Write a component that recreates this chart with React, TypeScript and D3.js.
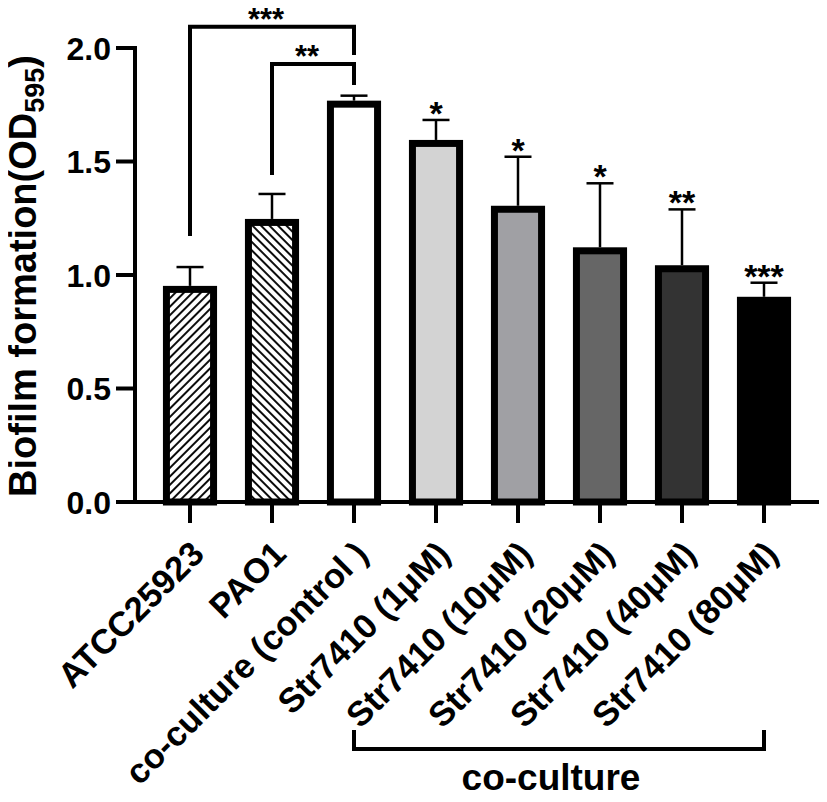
import React from 'react';
import * as d3 from 'd3';

const categories = [
  'ATCC25923',
  'PAO1',
  'co-culture (control )',
  'Str7410 (1μM)',
  'Str7410 (10μM)',
  'Str7410 (20μM)',
  'Str7410 (40μM)',
  'Str7410 (80μM)',
];
const means = [0.952, 1.247, 1.768, 1.595, 1.305, 1.122, 1.043, 0.904];
const errors = [0.083, 0.11, 0.022, 0.088, 0.216, 0.282, 0.246, 0.062];
const fills = ['url(#hatchFwd)', 'url(#hatchBack)', '#ffffff', '#d3d3d3', '#a0a0a4', '#666666', '#333333', '#000000'];
const stars = ['', '', '', '*', '*', '*', '**', '***'];
const yTicks = [0, 0.5, 1.0, 1.5, 2.0];

// comparison brackets: from / to category index, height and leg ends in data units
const brackets = [
  {from: 0, to: 2, top: 2.094, leftEnd: 1.172, rightEnd: 1.969, label: '***'},
  {from: 1, to: 2, top: 1.93, leftEnd: 1.441, rightEnd: 1.837, label: '**'},
];
const groupFrom = 2;
const groupTo = 7;
const groupLabel = 'co-culture';

const font = '"Liberation Sans", Arial, Helvetica, sans-serif';

export default function App() {
  const width = 827;
  const height = 802;
  const axisX = 135;
  const baseY = 502;

  const x = d3.scaleBand<string>()
    .domain(categories)
    .range([149, 805])
    .paddingInner(0.34)
    .paddingOuter(0.17);
  const y = d3.scaleLinear().domain([0, 2]).range([baseY, 48]);

  const bw = x.bandwidth();
  const sw = 7;
  const cx = (i: number) => (x(categories[i]) as number) + bw / 2;

  return (
    <svg width={width} height={height} style={{display: 'block', margin: -8}} fontFamily={font} fontWeight="bold">
      <defs>
        <pattern id="hatchFwd" width={6} height={6} patternUnits="userSpaceOnUse" patternTransform="rotate(45)">
          <rect width={6} height={6} fill="#fff" />
          <line x1={1} y1={0} x2={1} y2={6} stroke="#000" strokeWidth={1.9} />
        </pattern>
        <pattern id="hatchBack" width={6} height={6} patternUnits="userSpaceOnUse" patternTransform="rotate(-45)">
          <rect width={6} height={6} fill="#fff" />
          <line x1={1} y1={0} x2={1} y2={6} stroke="#000" strokeWidth={1.9} />
        </pattern>
      </defs>

      {/* bars */}
      {categories.map((c, i) => (
        <rect
          key={c}
          x={(x(c) as number) + sw / 2}
          y={y(means[i]) + sw / 2}
          width={bw - sw}
          height={baseY - y(means[i]) - sw / 2}
          fill={fills[i]}
          stroke="#000"
          strokeWidth={sw}
        />
      ))}

      {/* error bars */}
      {categories.map((c, i) => (
        <g key={c} stroke="#000" strokeWidth={2.5}>
          <line x1={cx(i)} x2={cx(i)} y1={y(means[i])} y2={y(means[i] + errors[i])} />
          <line x1={cx(i) - 13.5} x2={cx(i) + 13.5} y1={y(means[i] + errors[i])} y2={y(means[i] + errors[i])} />
        </g>
      ))}

      {/* stars above bars */}
      {categories.map((c, i) => (
        <text key={c} x={cx(i)} y={y(means[i] + errors[i]) + 5} textAnchor="middle" fontSize={34}>
          {stars[i]}
        </text>
      ))}

      {/* y axis */}
      <line x1={axisX} x2={axisX} y1={y(2) - 2} y2={baseY} stroke="#000" strokeWidth={4} />
      {yTicks.map(t => (
        <g key={t}>
          <line x1={116} x2={axisX} y1={y(t)} y2={y(t)} stroke="#000" strokeWidth={4} />
          <text x={111} y={y(t)} dy="0.36em" textAnchor="end" fontSize={32}>
            {d3.format('.1f')(t)}
          </text>
        </g>
      ))}
      <text transform={`translate(36,${276}) rotate(-90)`} textAnchor="middle" fontSize={38}>
        Biofilm formation(OD<tspan fontSize={27} dy={8}>595</tspan><tspan dy={-8}>)</tspan>
      </text>

      {/* x axis */}
      <line x1={116} x2={821} y1={baseY} y2={baseY} stroke="#000" strokeWidth={4} />
      {categories.map((c, i) => (
        <g key={c}>
          <line x1={cx(i)} x2={cx(i)} y1={baseY} y2={523} stroke="#000" strokeWidth={4} />
          <text transform={`translate(${cx(i) + 16},${556}) rotate(-45)`} textAnchor="end" fontSize={34.5}>
            {c}
          </text>
        </g>
      ))}

      {/* comparison brackets */}
      {brackets.map(b => (
        <g key={b.label}>
          <path
            d={`M${cx(b.from)},${y(b.leftEnd)}V${y(b.top)}H${cx(b.to)}V${y(b.rightEnd)}`}
            fill="none"
            stroke="#000"
            strokeWidth={4}
          />
          <text x={(cx(b.from) + cx(b.to)) / 2 - 6} y={y(b.top) + 3} textAnchor="middle" fontSize={31}>
            {b.label}
          </text>
        </g>
      ))}

      {/* group bracket */}
      <path
        d={`M${cx(groupFrom)},730V749H${cx(groupTo)}V730`}
        fill="none"
        stroke="#000"
        strokeWidth={4}
      />
      <text x={(cx(groupFrom) + cx(groupTo)) / 2 - 8} y={790} textAnchor="middle" fontSize={37}>
        {groupLabel}
      </text>
    </svg>
  );
}
